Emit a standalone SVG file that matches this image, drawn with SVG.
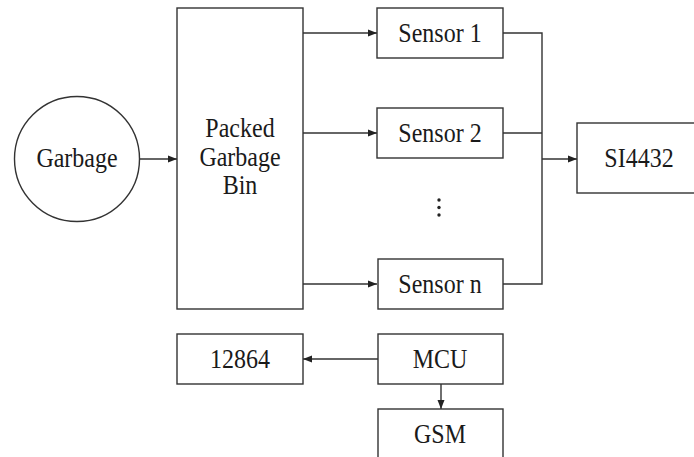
<svg xmlns="http://www.w3.org/2000/svg" width="694" height="457" viewBox="0 0 694 457">
<style>
.box{fill:#fff;stroke:#333;stroke-width:1.4}
.t{font-family:"Liberation Serif","Times New Roman",serif;font-size:24px;fill:#1a1a1a;text-anchor:middle}
.ln{fill:none;stroke:#333;stroke-width:1.4}
</style>
<defs>
<marker id="ah" markerWidth="10" markerHeight="8" refX="9" refY="4" orient="auto" markerUnits="userSpaceOnUse">
<path d="M0,0.5 L9,4 L0,7.5 Z" fill="#222"/>
</marker>
</defs>
<rect width="694" height="457" fill="#fff"/>
<g id="connectors">
<line class="ln" x1="139" y1="159" x2="177" y2="159" marker-end="url(#ah)"/>
<line class="ln" x1="303" y1="33" x2="377" y2="33" marker-end="url(#ah)"/>
<line class="ln" x1="303" y1="133" x2="377" y2="133" marker-end="url(#ah)"/>
<line class="ln" x1="303" y1="284" x2="377" y2="284" marker-end="url(#ah)"/>
<polyline class="ln" points="503,33 542,33 542,284 503,284"/>
<line class="ln" x1="503" y1="133" x2="542" y2="133"/>
<line class="ln" x1="542" y1="159" x2="577" y2="159" marker-end="url(#ah)"/>
<line class="ln" x1="378" y1="359" x2="303" y2="359" marker-end="url(#ah)"/>
<line class="ln" x1="441" y1="384" x2="441" y2="409" marker-end="url(#ah)"/>
</g>
<g id="garbage">
<circle class="box" cx="77" cy="159" r="62.5"/>
<text class="t" transform="matrix(1,0,0,1.12,77,167)">Garbage</text>
</g>
<g id="bin">
<rect class="box" x="177" y="8" width="126" height="301"/>
<text class="t" transform="matrix(1,0,0,1.12,240,137)">Packed</text>
<text class="t" transform="matrix(1,0,0,1.12,240,166)">Garbage</text>
<text class="t" transform="matrix(1,0,0,1.12,240,194)">Bin</text>
</g>
<g id="sensor1">
<rect class="box" x="377" y="8" width="126" height="50"/>
<text class="t" transform="matrix(1,0,0,1.12,440,41.5)">Sensor 1</text>
</g>
<g id="sensor2">
<rect class="box" x="377" y="108" width="126" height="50"/>
<text class="t" transform="matrix(1,0,0,1.12,440,141.5)">Sensor 2</text>
</g>
<g id="ellipsis">
<circle cx="439" cy="200" r="1.7" fill="#222"/>
<circle cx="439" cy="207.5" r="1.7" fill="#222"/>
<circle cx="439" cy="215" r="1.7" fill="#222"/>
</g>
<g id="sensorn">
<rect class="box" x="378" y="259" width="125" height="50"/>
<text class="t" transform="matrix(1,0,0,1.12,440,292.5)">Sensor n</text>
</g>
<g id="si4432">
<rect class="box" x="577" y="123" width="124" height="70"/>
<text class="t" transform="matrix(1,0,0,1.12,639,167)">SI4432</text>
</g>
<g id="lcd12864">
<rect class="box" x="177" y="334" width="126" height="50"/>
<text class="t" transform="matrix(1,0,0,1.12,240,367.5)">12864</text>
</g>
<g id="mcu">
<rect class="box" x="378" y="334" width="125" height="50"/>
<text class="t" transform="matrix(1,0,0,1.12,440,367.5)">MCU</text>
</g>
<g id="gsm">
<rect class="box" x="378" y="409" width="125" height="60"/>
<text class="t" transform="matrix(1,0,0,1.12,440,443)">GSM</text>
</g>
</svg>
